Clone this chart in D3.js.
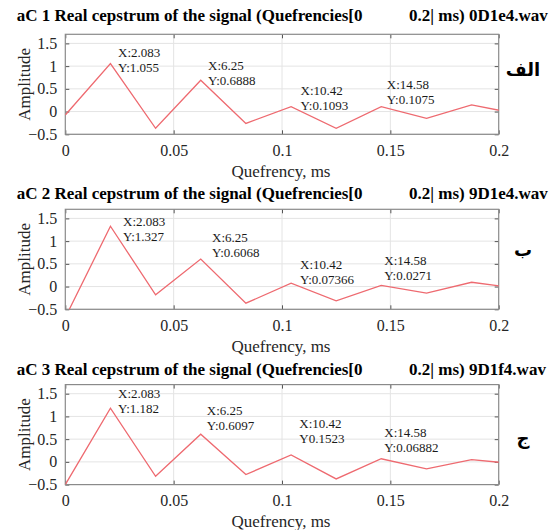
<!DOCTYPE html>
<html>
<head>
<meta charset="utf-8">
<script src="https://cdn.jsdelivr.net/npm/d3@7"></script>
<style>
  body { margin: 0; background: #fff; }
  svg { display: block; }
  text { font-family: "Liberation Serif", "Times New Roman", serif; fill: #262626; }
</style>
</head>
<body>
<svg id="chart" width="552" height="530"></svg>
<script>
// Quefrency sample positions (ms), one sample every 1/48 ms
const quefrency = [0, 0.02083, 0.04167, 0.0625, 0.08333, 0.1042, 0.125, 0.1458, 0.1667, 0.1875, 0.2083];

// Real cepstrum of each recording
const cepstrum0D1e4 = [-0.075, 1.055, -0.367, 0.6888, -0.26, 0.1093, -0.37, 0.1075, -0.147, 0.145, -0.047];
const cepstrum9D1e4 = [-0.68, 1.327, -0.18, 0.6068, -0.366, 0.07366, -0.315, 0.0271, -0.146, 0.095, -0.038];
const cepstrum9D1f4 = [-0.5, 1.182, -0.316, 0.6097, -0.28, 0.1523, -0.375, 0.06882, -0.154, 0.05, -0.045];

const titleLeft = [
  "aC 1 Real cepstrum of the signal (Quefrencies[0",
  "aC 2 Real cepstrum of the signal (Quefrencies[0",
  "aC 3 Real cepstrum of the signal (Quefrencies[0"
];
const titleRight = [
  "0.2| ms) 0D1e4.wav",
  "0.2| ms) 9D1e4.wav",
  "0.2| ms) 9D1f4.wav"
];
const panelTags = ["الف", "ب", "ج"];

// Data tips: sample index and X text, Y prefix per panel
const tipIndex = [1, 3, 5, 7];
const tipXText = ["X:2.083", "X:6.25", "X:10.42", "X:14.58"];
const tipYPrefix = [
  ["Y:", "Y:", "Y:", "Y:"],
  ["Y:", "Y:", "Y:", "Y:"],
  ["Y:", "Y:", "Y", "Y:"]
];

const xTicks = [0, 0.05, 0.1, 0.15, 0.2];
const yTicks = [-0.5, 0, 0.5, 1, 1.5];
const xLabel = "Quefrency, ms";
const yLabel = "Amplitude";

const series = [cepstrum0D1e4, cepstrum9D1e4, cepstrum9D1f4];

// ---- layout ----
const plotLeft = 65.3, plotWidth = 433.4, plotHeight = 100;
const panelTop = [34.3, 209.3, 384.6];
const titleBase = [20.5, 198.5, 375];
const tagPos = [[523, 70], [523, 250], [523, 438]];
// data-tip text offsets (first line) from the marked point, px
const tipOffsets = [
  [[7.6, -11], [7.3, -15.3], [9.5, -16.6], [5.6, -22.4]],
  [[12.6, -5.3], [11.3, -21.8], [8.9, -19], [3.1, -24.5]],
  [[7.6, -14.6], [6, -24], [8.2, -31.1], [3.1, -25.9]]
];

const svg = d3.select("#chart");
const x = d3.scaleLinear().domain([0, 0.2]).range([0, plotWidth]);
const fmt = d3.format("");

series.forEach((vals, p) => {
  const g = svg.append("g").attr("transform", `translate(${plotLeft},${panelTop[p]})`);
  const y = d3.scaleLinear().domain([-0.5, 1.7]).range([plotHeight, 0]);

  // title (two pieces with the gap)
  svg.append("text").attr("x", 16.7).attr("y", titleBase[p])
    .attr("font-size", 17).attr("font-weight", "bold").style("fill", "#000")
    .text(titleLeft[p]);
  svg.append("text").attr("x", 409).attr("y", titleBase[p])
    .attr("font-size", 17).attr("font-weight", "bold").style("fill", "#000")
    .text(titleRight[p]);

  // grid
  g.append("g").selectAll("line").data(xTicks.slice(1, -1)).join("line")
    .attr("x1", d => x(d)).attr("x2", d => x(d)).attr("y1", 0).attr("y2", plotHeight)
    .attr("stroke", "#e4e4e4").attr("stroke-width", 1);
  g.append("g").selectAll("line").data(yTicks).join("line")
    .attr("x1", 0).attr("x2", plotWidth).attr("y1", d => y(d)).attr("y2", d => y(d))
    .attr("stroke", "#e4e4e4").attr("stroke-width", 1);

  // axes with inward ticks
  const ax = g.append("g").attr("transform", `translate(0,${plotHeight})`)
    .call(d3.axisBottom(x).tickValues(xTicks).tickSizeInner(-4).tickSizeOuter(0).tickPadding(10).tickFormat(fmt));
  const ay = g.append("g")
    .call(d3.axisLeft(y).tickValues(yTicks).tickSizeInner(-4).tickSizeOuter(0).tickPadding(8).tickFormat(fmt));
  const axTop = g.append("g")
    .call(d3.axisTop(x).tickValues(xTicks).tickSizeInner(-4).tickSizeOuter(0).tickFormat(""));
  const ayRight = g.append("g").attr("transform", `translate(${plotWidth},0)`)
    .call(d3.axisRight(y).tickValues(yTicks).tickSizeInner(-4).tickSizeOuter(0).tickFormat(""));
  [ax, ay, axTop, ayRight].forEach(a => {
    a.select(".domain").remove();
    a.selectAll("line").attr("stroke", "#555");
    a.selectAll("text").attr("font-size", 16).attr("font-family", null).style("fill", "#262626");
  });
  ax.selectAll("text").attr("dy", null).attr("y", 21.5);

  // box
  g.append("rect").attr("x", 0).attr("y", 0).attr("width", plotWidth).attr("height", plotHeight)
    .attr("fill", "none").attr("stroke", "#8a8a8a").attr("stroke-width", 1.2);

  // cepstrum line, clipped to the axes box
  const clipId = "clip" + p;
  g.append("clipPath").attr("id", clipId).append("rect")
    .attr("width", plotWidth).attr("height", plotHeight);
  const line = d3.line().x((d, i) => x(quefrency[i])).y(d => y(d));
  g.append("path").datum(vals).attr("clip-path", `url(#${clipId})`)
    .attr("d", line).attr("fill", "none").attr("stroke", "#ee6a70").attr("stroke-width", 1.3);

  // data tips
  tipIndex.forEach((idx, k) => {
    const px = x(quefrency[idx]), py = y(vals[idx]);
    const [dx, dy] = tipOffsets[p][k];
    const t = g.append("text").attr("font-size", 13).style("fill", "#1a1a1a");
    t.append("tspan").attr("x", px + dx).attr("y", py + dy).attr("dy", "0.35em").text(tipXText[k]);
    t.append("tspan").attr("x", px + dx).attr("y", py + dy + 15).attr("dy", "0.35em").text(tipYPrefix[p][k] + vals[idx]);
  });

  // axis titles
  g.append("text").attr("x", plotWidth / 2 - 1).attr("y", plotHeight + 42.7)
    .attr("text-anchor", "middle").attr("font-size", 17).text(xLabel);
  g.append("text").attr("transform", `translate(${29.5 - plotLeft},${plotHeight / 2}) rotate(-90)`)
    .attr("text-anchor", "middle").attr("font-size", 17).text(yLabel);

  // panel tag
  svg.append("text").attr("x", tagPos[p][0]).attr("y", tagPos[p][1]).attr("dy", "0.35em")
    .attr("text-anchor", "middle").attr("font-size", 18)
    .style("font-family", "'DejaVu Sans', 'Noto Sans', sans-serif").style("font-weight", "bold").style("fill", "#000")
    .text(panelTags[p]);
});
</script>
</body>
</html>
